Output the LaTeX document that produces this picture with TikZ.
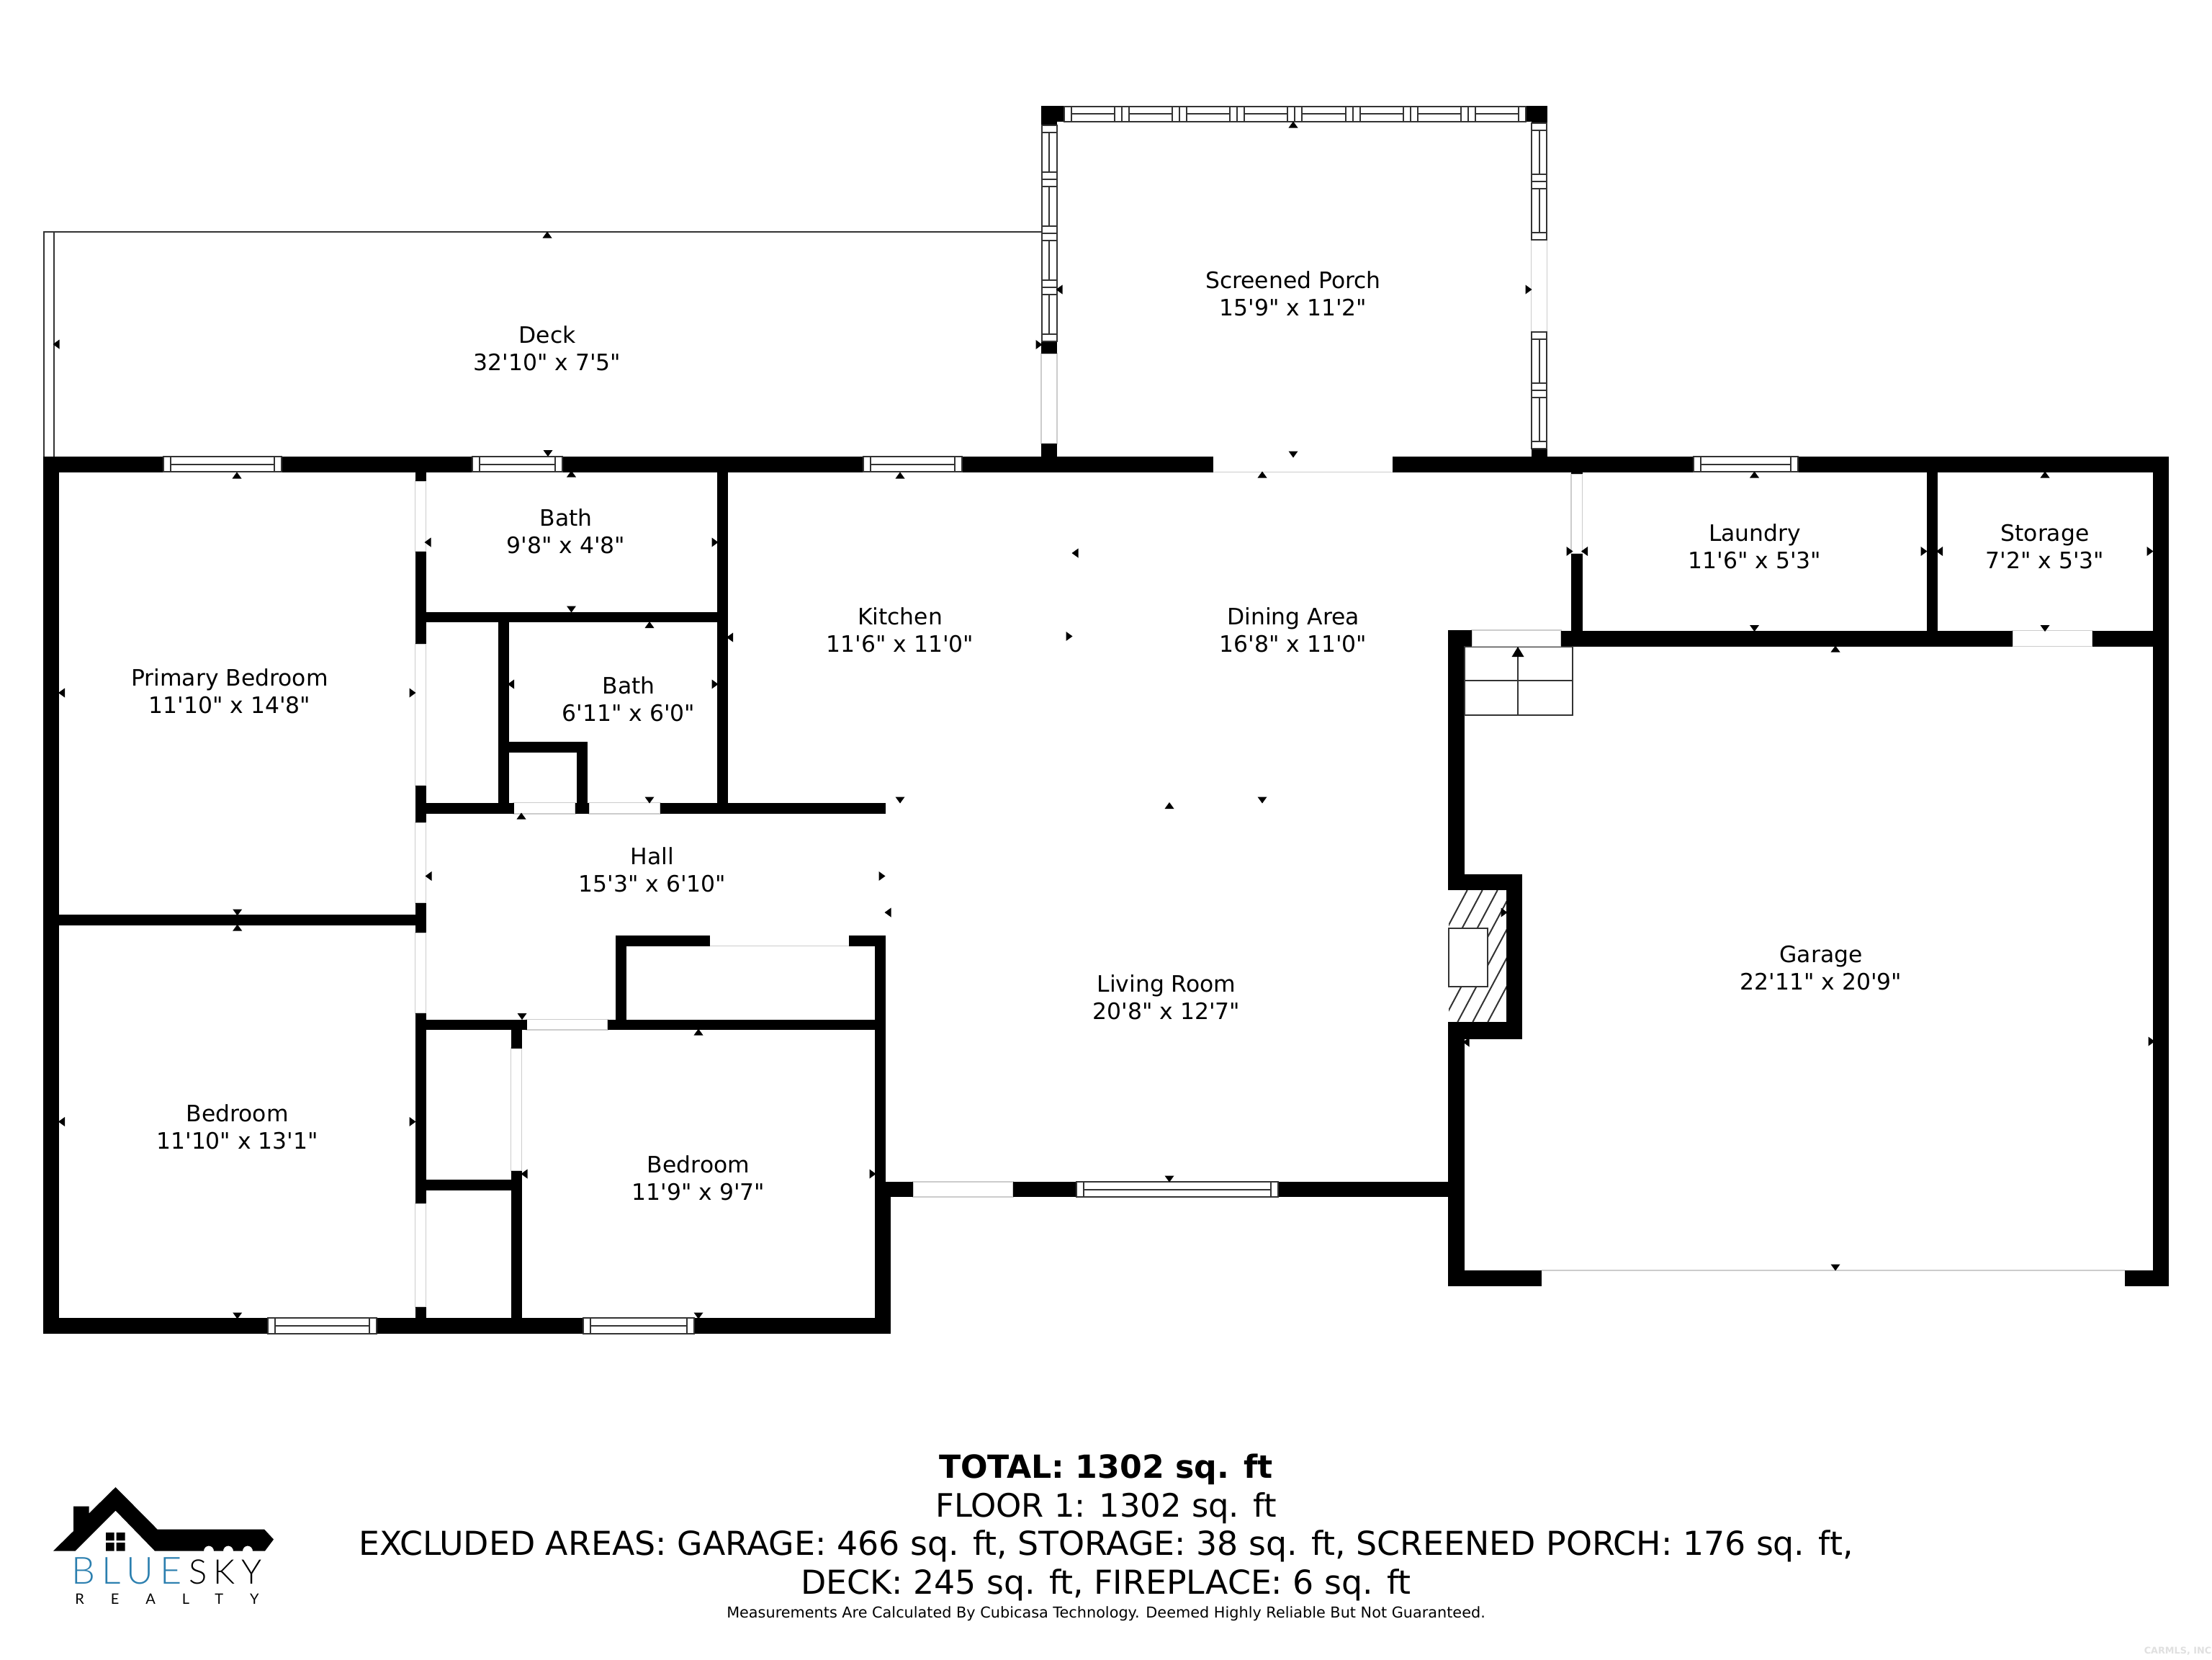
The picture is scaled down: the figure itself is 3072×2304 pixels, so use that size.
\documentclass[tikz,border=0pt]{standalone}
\usepackage{fontspec}
\usepackage{xcolor}
\newfontfamily\planfont{DejaVu Sans}
\newfontfamily\logofont{Lato Light}
\newfontfamily\logosmall{Lato}
\definecolor{edgegray}{HTML}{333333}
\definecolor{doorgray}{HTML}{CCCCCC}
\definecolor{logoblue}{HTML}{2B7FAF}
\tikzset{
	room/.style={font=\planfont\fontsize{7.85}{9.4}\selectfont, align=center, inner sep=0pt},
	summary/.style={font=\planfont\fontsize{11.45}{13}\selectfont, inner sep=0pt},
	wall/.style={fill=black},
	thinline/.style={draw=edgegray, line width=0.5pt},
	doorgap/.style={draw=doorgray, line width=0.35pt},
	glass/.style={fill=white, draw=edgegray, line width=0.5pt}
}
% windows: x1 y1 x2 y2 and the inset of the end bars
\newcommand{\hwin}[5]{
	\draw[glass] ({#1},{#2}) rectangle ({#3},{#4});
	\draw[thinline] ({#1+#5},{#2}) -- ({#1+#5},{#4}) ({#3-#5},{#2}) -- ({#3-#5},{#4});
	\draw[thinline] ({#1+#5},{(#2+#4)/2}) -- ({#3-#5},{(#2+#4)/2});
}
\newcommand{\vwin}[5]{
	\draw[glass] ({#1},{#2}) rectangle ({#3},{#4});
	\draw[thinline] ({#1},{#2+#5}) -- ({#3},{#2+#5}) ({#1},{#4-#5}) -- ({#3},{#4-#5});
	\draw[thinline] ({(#1+#3)/2},{#2+#5}) -- ({(#1+#3)/2},{#4-#5});
}
\begin{document}
\begin{tikzpicture}[x=0.25pt,y=-0.25pt]
	\useasboundingbox (0,0) rectangle (3072,2304);
	\fill[white] (0,0) rectangle (3072,2304);

	% deck outline
	\coordinate (decktl) at (61,322);
	\coordinate (decktr) at (1446,322);
	\coordinate (deckbl) at (61,634);
	\coordinate (deckin) at (75,322);
	\coordinate (deckib) at (75,634);
	\draw[thinline] (deckbl) -- (decktl) -- (decktr);
	\draw[thinline] (deckin) -- (deckib);

	% door openings, drawn under the walls
	\foreach \xa/\ya/\xb/\yb in {1685/655.5/1934/655.5, 2044/875/2168/897.5, 2795/875.5/2906/897.5,
		1268/1641/1407/1662, 986/1313.5/1179/1313.5, 2141/1764/2951/1764,
		713/1114.5/799/1130, 818/1114.5/917/1130, 731/1415.5/844/1430,
		576.5/668/591.5/766, 576.5/894/591.5/1091, 576.5/1142/591.5/1254,
		576.5/1295/591.5/1407, 576.5/1671/591.5/1815, 709.5/1455/724.5/1626,
		2182/658/2197.5/769, 1446/491/1468/616, 2126.5/333/2148.5/460.5}
		\draw[doorgap] (\xa,\ya) rectangle (\xb,\yb);

	% walls
	\foreach \xa/\ya/\xb/\yb in {60/633.5/227/655.5, 391/633.5/656/655.5, 781/633.5/1199/655.5,
		1336/633.5/1685/655.5, 1934/633.5/2352/655.5, 2497/633.5/3012/655.5,
		60/633.5/82/1852, 60/1830/372/1852, 523/1830/810/1852, 964/1830/1237/1852,
		82/1270/577/1285, 2990/633.5/3012/1786, 2951/1764/3012/1786,
		576.5/655/591.5/668, 576.5/766/591.5/894, 576.5/1091/591.5/1142,
		576.5/1254/591.5/1295, 576.5/1407/591.5/1671, 576.5/1815/591.5/1852,
		591/850/1010.5/864, 996/655/1010.5/1130,
		576.5/1114.5/713.5/1130, 799/1114.5/818/1130, 917/1114.5/1230/1130,
		692/864/706.5/1114.5, 692/1030/816/1045, 801/1045/816/1114.5,
		576.5/1415.5/731.5/1430, 843.5/1415.5/1230/1430, 709.5/1415.5/724.5/1455.5,
		709.5/1626/724.5/1852, 591/1638/710/1653,
		855/1298.5/869.5/1430, 855/1298.5/986/1313.5, 1179/1298.5/1230/1313.5,
		1215/1298.5/1230/1641, 1215/1641/1237/1852,
		1215/1641/1268/1662, 1407/1641/1495/1662, 1775/1641/2012/1662,
		2011/875/2033.5/1236, 2011/875/2044/897.5, 2168/875.5/2795/897.5, 2906/875.5/3012/897.5,
		2182/769/2197.5/875.5, 2182/655/2197.5/658, 2676/655/2691/875.5,
		2011/1213.5/2114/1236, 2092/1213.5/2114/1443, 2011/1419/2114/1443,
		2011/1419/2033.5/1786, 2011/1764/2141/1786,
		1446/147/1477.5/169, 1446/147/1468/173.5, 2119/147/2148.5/169, 2126.5/147/2148.5/170.5,
		1446/474/1468/491, 1446/616/1468/634, 2126.5/623/2148.5/634}
		\fill[wall] (\xa,\ya) rectangle (\xb,\yb);

	% windows
	\hwin{227}{634}{391}{655}{10}
	\hwin{656}{634}{781}{655}{10}
	\hwin{1199}{634}{1336}{655}{10}
	\hwin{2352}{634}{2497}{655}{10}
	\hwin{372}{1830}{523}{1852}{10}
	\hwin{810}{1830}{964}{1852}{10}
	\hwin{1495}{1641}{1775}{1662}{10}
	\foreach \i in {0,...,7} {
		\hwin{1477.5+80.2*\i}{147.5}{1477.5+80.2*(\i+1)}{168.5}{10}
	}
	\foreach \i in {0,...,3} {
		\vwin{1446.5}{173.5+75*\i}{1467.5}{173.5+75*(\i+1)}{10}
	}
	\vwin{2127}{170.5}{2148}{252}{10}
	\vwin{2127}{252}{2148}{333}{10}
	\vwin{2127}{460.5}{2148}{542}{10}
	\vwin{2127}{542}{2148}{623}{10}

	% stairs
	\coordinate (stairtl) at (2033.5,897.5);
	\coordinate (stairbr) at (2184,993);
	\coordinate (stairmidl) at (2033.5,945);
	\coordinate (stairmidr) at (2184,945);
	\coordinate (stairbase) at (2108,993);
	\coordinate (stairtip) at (2108,898);
	\draw[thinline] (stairtl) rectangle (stairbr);
	\draw[doorgray, line width=0.35pt] (2044,897.5) -- (2168,897.5);
	\draw[thinline] (stairmidl) -- (stairmidr);
	\draw[thinline] (stairbase) -- (stairtip);
	\fill (2108,898) -- (2116.5,912) -- (2099.5,912) -- cycle;

	% fireplace
	\begin{scope}
		\clip (2012,1236) rectangle (2092,1419);
		\foreach \k in {0,...,6}
			\draw[thinline] ({2037.7+21*\k},1236) -- ({1940.3+21*\k},1419);
	\end{scope}
	\draw[thinline, fill=white] (2011.5,1289) rectangle (2065.5,1370);

	% measuring marks
	\foreach \x/\y in {760/326, 329/660, 793.5/658, 1250/660, 1753/659, 2436.5/659, 2840/659,
		902/867.5, 724/1133, 329.7/1288, 970/1433, 1624/1118.5, 2549/901, 1796/173}
		\fill (\x,{\y-4.5}) -- ++(6.5,9) -- ++(-13,0) -- cycle;
	\foreach \x/\y in {761/629.5, 793.5/846, 902/1111, 1250/1111, 1753/1111, 725/1411.5, 329.7/1267,
		329.7/1827, 970/1827, 1624/1637, 2436.5/872.5, 2840/872.5, 2549/1760, 1796/631}
		\fill (\x,{\y+4.5}) -- ++(6.5,-9) -- ++(-13,0) -- cycle;
	\foreach \x/\y in {78/478, 85.5/962, 85.5/1557.5, 594/753, 709.5/950, 1013.5/885, 595/1216.5,
		728/1630, 1233/1267, 1493/768, 1471/402, 2200.5/765.5, 2693.5/765.5, 2036/1447}
		\fill ({\x-4.5},\y) -- ++(9,6.5) -- ++(0,-13) -- cycle;
	\foreach \x/\y in {1443/478.5, 573/962, 573/1557.5, 993/753, 993/950, 1225/1216.5,
		1212/1630, 1485/883.5, 2123/402, 2180/765.5, 2672/765.5, 2986/765.5, 2089/1267, 2988/1446}
		\fill ({\x+4.5},\y) -- ++(-9,6.5) -- ++(0,-13) -- cycle;

	% room labels
	\node[room] (deck) at (760,484) {Deck\\32'10" x 7'5"};
	\node[room] (porch) at (1796,408) {Screened Porch\\15'9" x 11'2"};
	\node[room] (bathone) at (786,738) {Bath\\9'8" x 4'8"};
	\node[room] (bathtwo) at (873,971) {Bath\\6'11" x 6'0"};
	\node[room] (primary) at (319,960) {Primary Bedroom\\11'10" x 14'8"};
	\node[room] (kitchen) at (1250,875) {Kitchen\\11'6" x 11'0"};
	\node[room] (dining) at (1796,875) {Dining Area\\16'8" x 11'0"};
	\node[room] (laundry) at (2437,759) {Laundry\\11'6" x 5'3"};
	\node[room] (storage) at (2840,759) {Storage\\7'2" x 5'3"};
	\node[room] (hall) at (906,1208) {Hall\\15'3" x 6'10"};
	\node[room] (living) at (1620,1385) {Living Room\\20'8" x 12'7"};
	\node[room] (garage) at (2529,1344) {Garage\\22'11" x 20'9"};
	\node[room] (bedone) at (329.7,1565) {Bedroom\\11'10" x 13'1"};
	\node[room] (bedtwo) at (970,1636) {Bedroom\\11'9" x 9'7"};

	% area summary
	\node[summary, font=\planfont\bfseries\fontsize{11.05}{13}\selectfont] (total) at (1536,2040) {TOTAL: 1302 sq. ft};
	\node[summary, font=\planfont\fontsize{11.2}{13}\selectfont] (floor) at (1536,2094) {FLOOR 1: 1302 sq. ft};
	\node[summary] (excluded) at (1536,2147) {EXCLUDED AREAS: GARAGE: 466 sq. ft, STORAGE: 38 sq. ft, SCREENED PORCH: 176 sq. ft,};
	\node[summary] (excludedtwo) at (1536,2201) {DECK: 245 sq. ft, FIREPLACE: 6 sq. ft};
	\node[summary, font=\planfont\fontsize{5.2}{6}\selectfont] (note) at (1536,2241) {Measurements Are Calculated By Cubicasa Technology. Deemed Highly Reliable But Not Guaranteed.};
	\node[inner sep=0pt, anchor=east, text=black!12, font=\planfont\bfseries\fontsize{3.2}{4}\selectfont] (mls) at (3072,2293) {CARMLS, INC};

	% logo
	\fill (74,2153.5) -- (102,2126) -- (102,2091.5) -- (123.5,2091.5) -- (123.5,2101.5) -- (160.5,2065)
		-- (218.5,2123.5) -- (367,2123.5) -- (380,2137.5) -- (368,2153.5) -- (351,2153.5)
		arc (0:-180:7) -- (324,2153.5) arc (0:-180:7) -- (297,2153.5) arc (0:-180:7)
		-- (215,2153.5) -- (160.5,2097.5) -- (104.5,2153.5) -- cycle;
	\fill (147,2128) rectangle (158.5,2139) (161.5,2128) rectangle (173.5,2139)
		(147,2142) rectangle (158.5,2153.5) (161.5,2142) rectangle (173.5,2153.5);
	\node[inner sep=0pt, text=logoblue, font=\logofont\fontsize{13}{13}\selectfont\addfontfeature{LetterSpace=18}] (blue) at (176,2181) {BLUE};
	\node[inner sep=0pt, font=\logofont\fontsize{11.8}{12}\selectfont\addfontfeature{LetterSpace=18}] (sky) at (313,2183) {SKY};
	\node[inner sep=0pt, font=\logosmall\fontsize{5}{6}\selectfont\addfontfeature{LetterSpace=185}] (realty) at (232,2220) {REALTY};
\end{tikzpicture}
\end{document}
